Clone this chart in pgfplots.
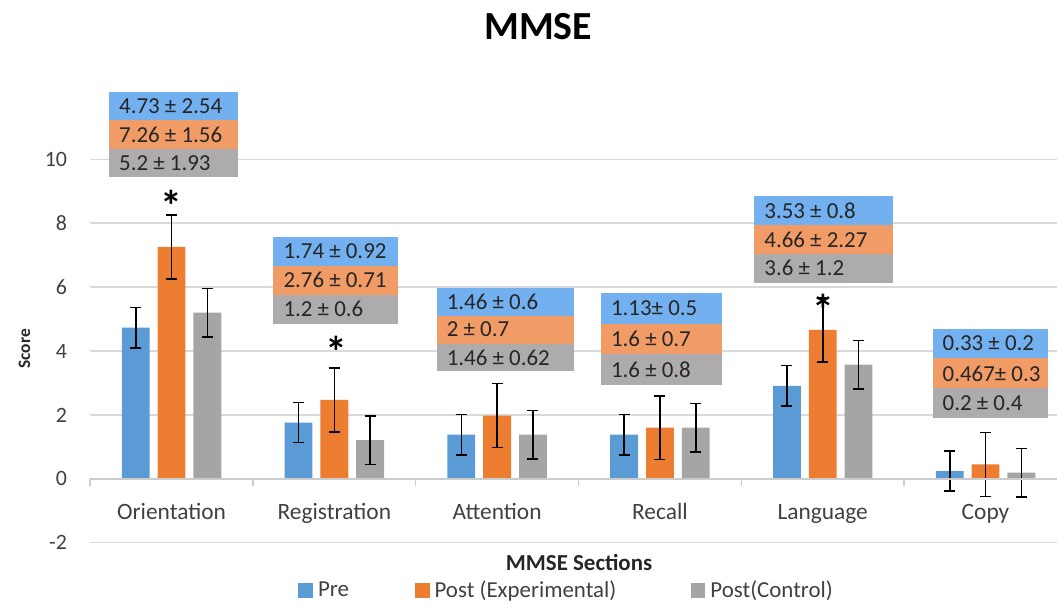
\documentclass[border=0pt]{standalone}
\usepackage{fontspec}
\setmainfont{Carlito}
\usepackage{pgfplots}
\pgfplotsset{compat=1.18}
\definecolor{cpre}{HTML}{5B9BD5}
\definecolor{cexp}{HTML}{ED7D31}
\definecolor{cctl}{HTML}{A5A5A5}
\definecolor{bblue}{HTML}{73B0EF}
\definecolor{borange}{HTML}{F19B67}
\definecolor{bgray}{HTML}{ADABAB}
\definecolor{gridc}{HTML}{D9D9D9}
\definecolor{axc}{HTML}{CCCCCC}
\definecolor{labc}{HTML}{404040}
\definecolor{boxtxt}{HTML}{262626}
\newcommand\fs[1]{\fontsize{#1}{#1}\selectfont}
% left px, top px, width, row height, three texts
\newcommand\lbox[7]{%
  \fill[bblue]   (#1pt,606pt-#2pt) rectangle (#1pt+#3pt,606pt-#2pt-#4pt);
  \fill[borange] (#1pt,606pt-#2pt-#4pt) rectangle (#1pt+#3pt,606pt-#2pt-2*#4pt);
  \fill[bgray]   (#1pt,606pt-#2pt-2*#4pt) rectangle (#1pt+#3pt,606pt-#2pt-3*#4pt);
  \node[anchor=west,inner sep=0pt,text=boxtxt,font=\fs{23}] at (#1pt+10pt,606pt-#2pt-0.5*#4pt) {#5};
  \node[anchor=west,inner sep=0pt,text=boxtxt,font=\fs{23}] at (#1pt+10pt,606pt-#2pt-1.5*#4pt) {#6};
  \node[anchor=west,inner sep=0pt,text=boxtxt,font=\fs{23}] at (#1pt+10pt,606pt-#2pt-2.5*#4pt) {#7};
}
\newlength\wpre
\newlength\wexp
\begin{document}
\settowidth\wpre{\fs{23}Pre}
\settowidth\wexp{\fs{23}Post (Experimental)}
\begin{tikzpicture}
\begin{axis}[
  at={(86pt,61pt)}, anchor=south west,
  scale only axis, width=971pt, height=385pt,
  xmin=-0.5, xmax=5.439, ymin=-2, ymax=10,
  ytick={-2,0,...,10},
  ymajorgrids, grid style={draw=gridc, line width=1.5pt},
  axis line style={draw=none}, major tick length=0pt,
  xtick={0,...,5},
  xticklabels={Orientation,Registration,Attention,Recall,Language,Copy},
  xticklabel style={anchor=base, yshift=23pt, font=\fs{23.5}, text=labc},
  yticklabel style={anchor=east, inner sep=0pt, xshift=-23pt, font=\fs{22}, text=labc},
  /pgf/number format/assume math mode=true,
  clip=false,
  ybar, bar width=0.171,
  title={\bfseries MMSE},
  title style={at={(axis description cs:0.4634,1.33)}, anchor=center, font=\fs{40}},
  xlabel={\bfseries MMSE Sections},
  xlabel style={at={(axis description cs:0.5057,-0.052)}, anchor=center, font=\fs{23}, text=black!85},
  ylabel={\bfseries Score},
  ylabel style={at={(axis description cs:-0.068,0.506)}, anchor=center, rotate=0, font=\fs{17.5}, text=black!85},
  legend columns=3,
  legend image code/.code={\fill[#1] (0pt,-7.5pt) rectangle (15pt,7.5pt);},
  legend style={at={(axis description cs:0.2152,-0.124)}, anchor=west, draw=none, fill=none,
    inner sep=0pt, outer sep=0pt, column sep=0pt, font=\fs{23},
    nodes={inner sep=0pt, text=labc},
    /tikz/every odd column/.append style={column sep=5pt},
    /tikz/column 2/.append style={column sep=\dimexpr97pt-\wpre\relax},
    /tikz/column 4/.append style={column sep=\dimexpr257pt-\wexp\relax}},
  error bars/y dir=both, error bars/y explicit,
  error bars/error bar style={line width=1.6pt, black},
  error bars/error mark options={rotate=90, mark size=5.5pt, line width=1.6pt, black},
]
\addplot[fill=cpre, draw=none, bar shift=-0.22] coordinates {
  (0,4.73) +- (0,0.63)
  (1,1.76) +- (0,0.63)
  (2,1.38) +- (0,0.63)
  (3,1.38) +- (0,0.63)
  (4,2.91) +- (0,0.63)
  (5,0.24) +- (0,0.63)
};
\addplot[fill=cexp, draw=none, bar shift=0] coordinates {
  (0,7.26) +- (0,1.0)
  (1,2.47) +- (0,1.0)
  (2,1.98) +- (0,1.0)
  (3,1.60) +- (0,1.0)
  (4,4.66) +- (0,1.0)
  (5,0.45) +- (0,1.0)
};
\addplot[fill=cctl, draw=none, bar shift=0.22] coordinates {
  (0,5.20) +- (0,0.76)
  (1,1.21) +- (0,0.76)
  (2,1.38) +- (0,0.76)
  (3,1.60) +- (0,0.76)
  (4,3.57) +- (0,0.76)
  (5,0.19) +- (0,0.76)
};
\addlegendentry{Pre}
\addlegendentry{Post (Experimental)}
\addlegendentry{Post(Control)}
\end{axis}
% zero line and category separators
\draw[axc, line width=1.5pt] (86pt,125pt) -- (1057pt,125pt);
\foreach \xx in {86,249.5,413,576.5,740,903.5}
  \draw[axc, line width=1.5pt] (\xx pt,125pt) -- (\xx pt,118pt);
% data label boxes
\lbox{105}{92}{129}{28.7}{4.73 ± 2.54}{7.26 ± 1.56}{5.2 ± 1.93}
\lbox{270}{238}{125}{29}{1.74 ± 0.92}{2.76 ± 0.71}{1.2 ± 0.6}
\lbox{434}{289}{138}{28}{1.46 ± 0.6}{2 ± 0.7}{1.46 ± 0.62}
\lbox{599}{294}{122}{31}{1.13± 0.5}{1.6 ± 0.7}{1.6 ± 0.8}
\lbox{753}{197}{139}{29}{3.53 ± 0.8}{4.66 ± 2.27}{3.6 ± 1.2}
\lbox{932}{330}{116}{30}{0.33 ± 0.2}{0.467± 0.3}{0.2 ± 0.4}
% significance stars
\node[anchor=north, inner sep=0pt, font=\fs{44}\bfseries] at (168pt,606pt-191pt) {*};
\node[anchor=north, inner sep=0pt, font=\fs{44}\bfseries] at (333pt,606pt-337pt) {*};
\node[anchor=north, inner sep=0pt, font=\fs{44}\bfseries] at (822pt,606pt-295pt) {*};
\pgfresetboundingbox
\useasboundingbox (0pt,0pt) rectangle (1057pt,606pt);
\end{tikzpicture}
\end{document}
